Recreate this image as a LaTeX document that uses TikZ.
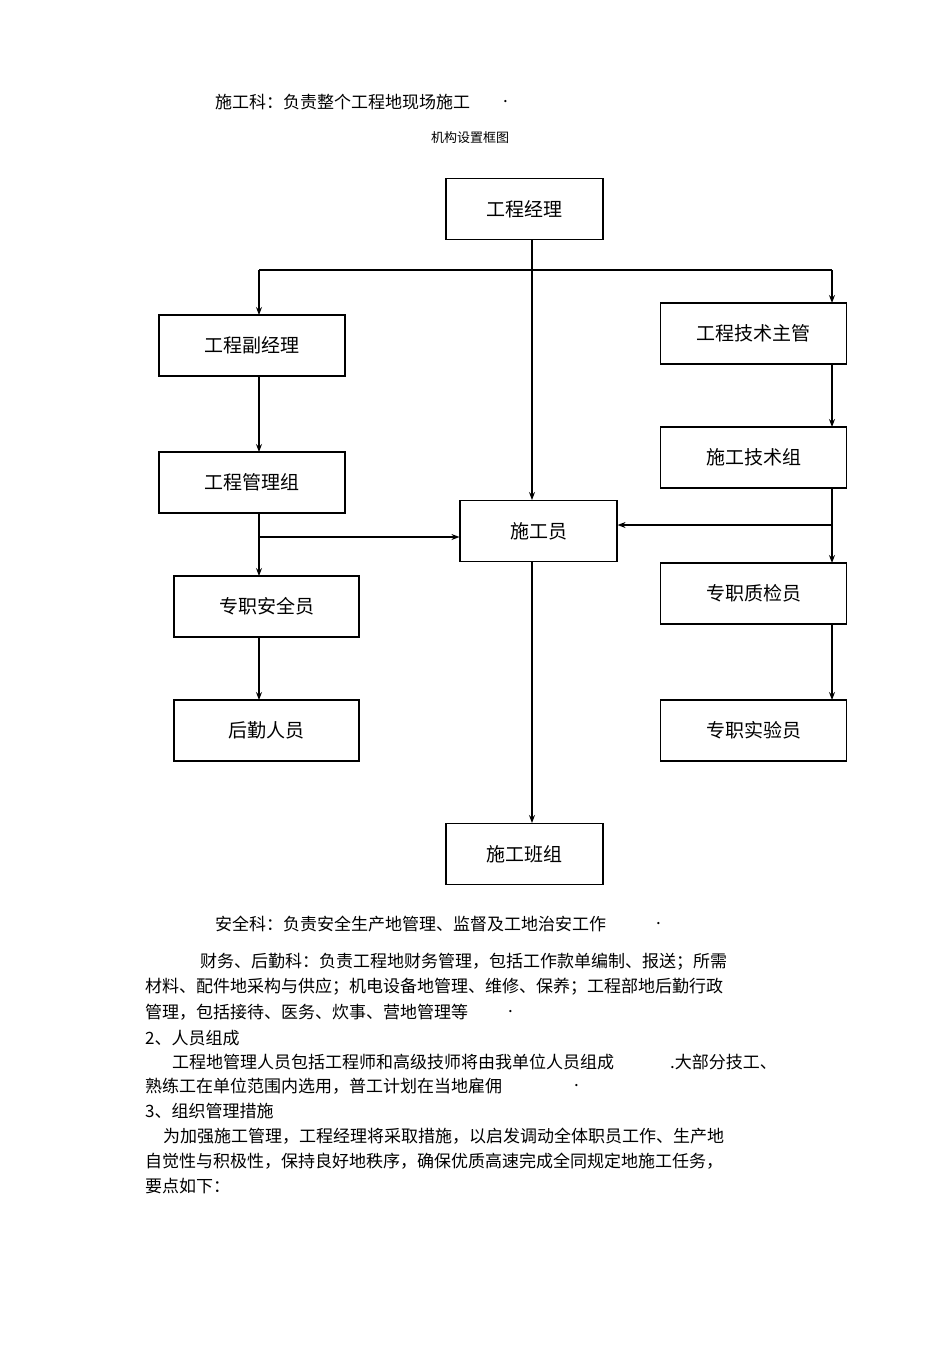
\documentclass[tikz,border=0pt]{standalone}
\usepackage{fontspec}
\setmainfont{Noto Sans CJK SC}
\usetikzlibrary{arrows.meta}
\begin{document}
\begin{tikzpicture}[x=1pt,y=-1pt,
 box/.style={draw,line width=1.1pt,minimum width=#1pt,minimum height=61pt,inner sep=0pt,font=\fontsize{19}{19}\selectfont},
 box/.default=186,
 body/.style={anchor=west,inner sep=0pt,font=\fontsize{17}{17}\selectfont},
 arr/.style={line width=1.1pt,-{Stealth[length=8pt,width=6pt]}},
 ln/.style={line width=1.1pt}]
\useasboundingbox (0,0) rectangle (950,1345);
\node[box=157] (jl) at (524.5,209) {工程经理};
\node[box] (fjl) at (252,345.5) {工程副经理};
\node[box] (jszg) at (753.5,333.5) {工程技术主管};
\node[box] (glz) at (252,482.5) {工程管理组};
\node[box] (jsz) at (753.5,457.5) {施工技术组};
\node[box=157] (sgy) at (538.5,531) {施工员};
\node[box=185] (aqy) at (266.5,606.5) {专职安全员};
\node[box] (zjy) at (753.5,593.5) {专职质检员};
\node[box=185] (hq) at (266.5,730.5) {后勤人员};
\node[box] (syy) at (753.5,730.5) {专职实验员};
\node[box=157] (bz) at (524.5,854) {施工班组};
\coordinate (t) at (532,270);
\coordinate (tl) at (259,270);
\coordinate (tr) at (832,270);
\coordinate (m) at (259,537);
\coordinate (r) at (832,525);
\draw[arr] (532,240) -- (532,500);
\draw[ln] (tl) -- (tr);
\draw[arr] (tl) -- (259,315);
\draw[arr] (tr) -- (832,303);
\draw[arr] (532,562) -- (532,823);
\draw[arr] (259,376) -- (259,452);
\draw[arr] (259,513) -- (259,576);
\draw[arr] (m) -- (sgy.west |- m);
\draw[arr] (259,637) -- (259,700);
\draw[arr] (832,364) -- (832,427);
\draw[arr] (832,488) -- (832,563);
\draw[arr] (r) -- (sgy.east |- r);
\draw[arr] (832,624) -- (832,700);
\node[body] (a1) at (215,102) {施工科：负责整个工程地现场施工};
\node[body] (a1d) at (503,102) {.};
\node[font=\fontsize{13}{13}\selectfont] (tt) at (470,138) {机构设置框图};
\node[body] (b1) at (215,924) {安全科：负责安全生产地管理、监督及工地治安工作};
\node[body] (b1d) at (656,924) {.};
\node[body] (b2) at (200,962) {财务、后勤科：负责工程地财务管理，包括工作款单编制、报送；所需};
\node[body] (b3) at (145,987) {材料、配件地采构与供应；机电设备地管理、维修、保养；工程部地后勤行政};
\node[body] (b4) at (145,1012) {管理，包括接待、医务、炊事、营地管理等};
\node[body] (b4d) at (508,1012) {.};
\node[body] (b5) at (145,1038) {2、人员组成};
\node[body] (b6) at (172,1062) {工程地管理人员包括工程师和高级技师将由我单位人员组成};
\node[body] (b6b) at (670,1062) {.大部分技工、};
\node[body] (b7) at (145,1086) {熟练工在单位范围内选用，普工计划在当地雇佣};
\node[body] (b7d) at (574,1086) {.};
\node[body] (b8) at (145,1111) {3、组织管理措施};
\node[body] (b9) at (163,1136) {为加强施工管理，工程经理将采取措施，以启发调动全体职员工作、生产地};
\node[body] (b10) at (145,1161) {自觉性与积极性，保持良好地秩序，确保优质高速完成全同规定地施工任务，};
\node[body] (b11) at (145,1186) {要点如下：};
\end{tikzpicture}
\end{document}
